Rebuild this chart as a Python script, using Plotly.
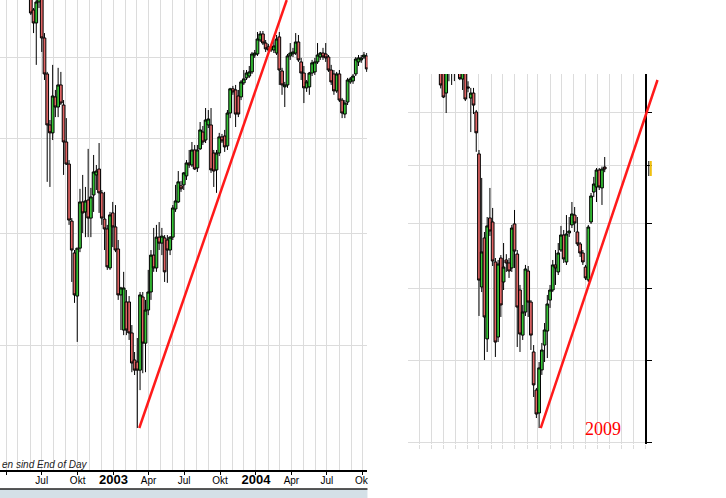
import math
import pandas as pd
import plotly.graph_objects as go

# ---------------- data (weekly candles) ----------------
left_start = "2002-06-03"
left_open = [4425, 4318, 4228, 4375, 4404, 4126, 3891, 3581, 3535, 3748, 3687, 3822, 3699, 3483, 3360, 3062,
             2907, 2710, 2930, 3159, 3108, 3169, 3077, 3195, 3301, 3333, 3206, 3072, 3023, 2837, 3103, 3033,
             2926, 2715, 2564, 2684, 2684, 2552, 2442, 2434, 2402, 2706, 2510, 2649, 2728, 2897, 2837, 2983,
             2954, 2979, 2969, 2921, 2983, 3123, 3159, 3243, 3248, 3296, 3366, 3355, 3438, 3339, 3444, 3540,
             3494, 3581, 3581, 3421, 3328, 3421, 3512, 3517, 3461, 3651, 3798, 3791, 3754, 3748, 3835, 3866,
             3878, 3904, 4013, 4020, 4112, 4153, 4092, 4066, 4046, 4046, 4026, 4133, 3910, 3810, 3822, 4007,
             4020, 4026, 4099, 3968, 3897, 3804, 3810, 3897, 3904, 3968, 4000, 4026, 4020, 4000, 3916, 3891,
             3785, 3891, 3729, 3645, 3717, 3841, 3847, 3891, 3968, 3981, 4000, 4007]
left_high = [4461, 4332, 4425, 4447, 4447, 4159, 3904, 3610, 3949, 3791, 3930, 3904, 3729, 3621, 3382, 3077,
             2921, 2930, 3227, 3301, 3237, 3444, 3232, 3410, 3355, 3477, 3221, 3211, 3043, 3108, 3159, 3143,
             2969, 2751, 2819, 2737, 2710, 2585, 2474, 2531, 2728, 2728, 2693, 2828, 2921, 3028, 3043, 3057,
             3028, 2993, 2993, 2988, 3143, 3248, 3322, 3269, 3317, 3382, 3438, 3483, 3466, 3466, 3598, 3575,
             3681, 3669, 3681, 3438, 3438, 3535, 3529, 3552, 3669, 3804, 3816, 3822, 3791, 3853, 3916, 3916,
             3942, 4033, 4046, 4166, 4173, 4173, 4112, 4086, 4079, 4112, 4146, 4166, 3930, 3841, 4020, 4092,
             4060, 4159, 4146, 3994, 3942, 3853, 3904, 3981, 3994, 4092, 4033, 4060, 4092, 4013, 3949, 3916,
             3904, 3916, 3742, 3729, 3866, 3872, 3891, 4000, 4013, 4013, 4033, 4026]
left_low = [4283, 4159, 3949, 4332, 4033, 3853, 3264, 3237, 3494, 3627, 3627, 3699, 3301, 3355, 3043, 2773,
            2680, 2515, 2911, 3003, 2983, 2983, 2983, 3108, 3221, 3103, 3043, 2921, 2828, 2828, 2935, 2911,
            2693, 2564, 2543, 2543, 2523, 2394, 2383, 2186, 2325, 2390, 2394, 2627, 2693, 2819, 2819, 2921,
            2897, 2773, 2769, 2897, 2969, 3108, 3154, 3211, 3221, 3274, 3339, 3344, 3328, 3317, 3438, 3466,
            3477, 3563, 3312, 3237, 3206, 3404, 3477, 3427, 3438, 3621, 3761, 3569, 3627, 3729, 3822, 3853,
            3866, 3891, 3994, 4007, 4099, 4079, 4033, 4033, 4033, 4026, 4013, 3822, 3761, 3687, 3804, 3981,
            4000, 4013, 3968, 3853, 3711, 3779, 3761, 3878, 3885, 3955, 3981, 3981, 3968, 3904, 3822, 3761,
            3773, 3717, 3621, 3621, 3699, 3829, 3829, 3878, 3942, 3962, 3987, 3904]
left_close = [4297, 4228, 4375, 4404, 4126, 3891, 3581, 3535, 3754, 3687, 3822, 3711, 3483, 3360, 3067, 2921,
              2715, 2930, 3159, 3103, 3164, 3077, 3185, 3317, 3322, 3206, 3077, 3023, 2842, 3093, 3033, 2921,
              2715, 2746, 2746, 2564, 2552, 2430, 2402, 2402, 2715, 2510, 2649, 2728, 2897, 2837, 2983, 2954,
              2988, 2819, 2921, 2983, 3128, 3164, 3264, 3227, 3312, 3366, 3355, 3438, 3333, 3438, 3552, 3483,
              3610, 3616, 3328, 3322, 3421, 3512, 3489, 3455, 3651, 3798, 3779, 3645, 3645, 3841, 3860, 3897,
              3904, 4020, 4026, 4119, 4153, 4092, 4053, 4046, 4066, 4073, 4119, 3916, 3822, 3822, 4007, 4026,
              4033, 4099, 3981, 3897, 3804, 3841, 3897, 3962, 3968, 4013, 4026, 4000, 3994, 3916, 3841, 3785,
              3891, 3729, 3651, 3711, 3853, 3860, 3878, 3987, 3994, 3994, 4013, 3923]

right_start = "2008-06-25"
right_open = [6450, 6450, 6188, 6450, 6500, 6420, 6470, 6560, 6331, 6420, 6250, 6138, 6188, 6000, 5604, 4512,
              4887, 4146, 5049, 5016, 4700, 4159, 4730, 4549, 4715, 4692, 4654, 5000, 4761, 4490, 4172, 4332,
              4631, 4403, 4059, 3815, 3675, 3942, 4105, 4200, 4417, 4490, 4677, 4624, 4792, 4911, 4700, 4927,
              4992, 5073, 4935, 4840, 4769, 4661, 4564, 5016, 5267, 5310, 5459, 5302, 5486]
right_high = [6500, 6520, 6480, 6600, 6560, 6550, 6620, 6600, 6450, 6480, 6308, 6240, 6240, 6020, 5640, 5389,
              4935, 5057, 5302, 5132, 4730, 4715, 4753, 4847, 4760, 4730, 4992, 5115, 4792, 4527, 4382, 4677,
              4669, 4417, 4105, 3828, 3993, 4119, 4255, 4454, 4527, 4715, 4792, 4847, 4984, 4951, 5073, 5057,
              5182, 5140, 5057, 4855, 4792, 4677, 4992, 5259, 5398, 5477, 5477, 5490, 5576]
right_low = [6235, 6138, 5990, 6308, 6270, 6310, 6420, 6320, 6219, 6108, 6196, 5807, 5980, 5623, 4304, 4475,
             4006, 4059, 4903, 4669, 4026, 4125, 4297, 4490, 4624, 4579, 4624, 4654, 4092, 4059, 4139, 4304,
             4297, 4072, 3772, 3645, 3586, 3910, 3993, 4019, 4361, 4475, 4527, 4601, 4777, 4692, 4677, 4895,
             4967, 4935, 4823, 4738, 4677, 4564, 4549, 5000, 5224, 5182, 5284, 5157, 5440]
right_close = [6270, 6148, 6420, 6500, 6420, 6470, 6560, 6334, 6420, 6128, 6240, 6188, 6068, 5800, 4563, 4777,
               4297, 4984, 4943, 4707, 4125, 4684, 4382, 4661, 4692, 4631, 4967, 4784, 4367, 4179, 4332, 4646,
               4403, 4172, 3847, 3669, 3955, 4072, 4207, 4389, 4490, 4677, 4654, 4769, 4911, 4723, 4919, 4943,
               5082, 5008, 4840, 4769, 4700, 4579, 4975, 5233, 5336, 5459, 5310, 5468, 5468]

left_trend_dates = ["2003-03-08", "2004-03-20"]
left_trend_values = [2186, 4389]
right_trend_dates = ["2009-03-08", "2010-01-01"]
right_trend_values = [3586, 6321]

left_tick_dates = ["2002-04-01", "2002-07-01", "2002-10-01", "2003-01-01", "2003-04-01", "2003-07-01",
                   "2003-10-01", "2004-01-01", "2004-04-01", "2004-07-01", "2004-10-01"]
left_tick_labels = ["Apr", "Jul", "Okt", "2003", "Apr", "Jul", "Okt", "2004", "Apr", "Jul", "Okt"]
left_year_dates = ["2003-01-01", "2004-01-01"]
right_year_dates = ["2009-01-01"]
left_grid_values = [2500, 3000, 3500, 4000]
right_grid_values = [3500, 4000, 4500, 5000, 5500, 6000]
footnote_text = "en sind End of Day"
year_label = "2009"

# ---------------- layout geometry ----------------
W, H = 726, 498
PPL = 614.0  # pixels per natural-log unit of price


def log_range(anchor_price, anchor_px, top_px, bottom_px):
    top = anchor_price * math.exp((anchor_px - top_px) / PPL)
    bot = anchor_price * math.exp((anchor_px - bottom_px) / PPL)
    return [math.log10(bot), math.log10(top)]


GREEN = "#36c436"
RED = "#e06464"
GRID = "#dcdcdc"
YEARGRID = "#a0a0a0"
TREND = "#ff1a1a"
FONT = "Liberation Sans, Arial, sans-serif"

left_dates = pd.date_range(left_start, periods=len(left_open), freq="7D")
right_dates = pd.date_range(right_start, periods=len(right_open), freq="7D")

left_xrange = ["2002-03-16", "2004-10-13"]
right_xrange = ["2008-04-03", "2009-12-01"]
r0, r1 = pd.Timestamp(right_xrange[0]), pd.Timestamp(right_xrange[1])
days_per_px = (r1 - r0).days / (648 - 410)
x3_end = (r0 + pd.Timedelta(days=round((672 - 410) * days_per_px))).strftime("%Y-%m-%d")

left_months = [d.strftime("%Y-%m-%d") for d in pd.date_range("2002-03-01", "2004-11-01", freq="MS")]
right_months = [d.strftime("%Y-%m-%d") for d in pd.date_range("2008-05-01", "2009-12-01", freq="MS")]

fig = go.Figure()

candle_style = dict(
    increasing=dict(fillcolor=GREEN, line=dict(color="black", width=1)),
    decreasing=dict(fillcolor=RED, line=dict(color="black", width=1)),
    whiskerwidth=0, showlegend=False, hoverinfo="skip",
)

fig.add_trace(go.Candlestick(x=left_dates, open=left_open, high=left_high, low=left_low,
                             close=left_close, xaxis="x", yaxis="y", **candle_style))
fig.add_trace(go.Scatter(x=left_trend_dates, y=left_trend_values, mode="lines",
                         line=dict(color=TREND, width=2.5), xaxis="x", yaxis="y",
                         showlegend=False, hoverinfo="skip"))
fig.add_trace(go.Candlestick(x=right_dates, open=right_open, high=right_high, low=right_low,
                             close=right_close, xaxis="x2", yaxis="y2", **candle_style))
fig.add_trace(go.Scatter(x=right_trend_dates, y=right_trend_values, mode="lines",
                         line=dict(color=TREND, width=2.5), xaxis="x3", yaxis="y3",
                         showlegend=False, hoverinfo="skip"))

tick_text = [f"<b><span style='font-size:13px'>{t}</span></b>" if t.isdigit() else t
             for t in left_tick_labels]

right_yrange = log_range(6000, 112, 74, 444)

fig.update_layout(
    width=W, height=H, autosize=False,
    margin=dict(l=0, r=0, t=0, b=0, pad=0),
    paper_bgcolor="white", plot_bgcolor="rgba(0,0,0,0)",
    boxgap=0, boxgroupgap=0,
    font=dict(family=FONT, size=10, color="black"),
    xaxis=dict(
        type="date", domain=[0, 369 / W], range=left_xrange, anchor="y",
        showline=True, linecolor="black", linewidth=1.5,
        ticks="outside", ticklen=3, tickcolor="black", tickwidth=1,
        tickmode="array", tickvals=left_tick_dates, ticktext=tick_text,
        tickfont=dict(family=FONT, size=10, color="black"), ticklabelstandoff=-3,
        showgrid=True, gridcolor=GRID, gridwidth=1,
        minor=dict(tickmode="array", tickvals=left_months, showgrid=True,
                   gridcolor=GRID, gridwidth=1, ticks=""),
        rangeslider=dict(visible=False), zeroline=False,
    ),
    xaxis4=dict(
        type="date", overlaying="x", range=left_xrange, anchor="y",
        tickmode="array", tickvals=left_year_dates, showticklabels=False, ticks="",
        showline=False, showgrid=True, gridcolor=YEARGRID, gridwidth=1, zeroline=False,
    ),
    yaxis=dict(
        type="log", domain=[1 - 470 / H, 1], range=log_range(4000, 57, 0, 470), anchor="x",
        showline=False, ticks="", showticklabels=False,
        tickmode="array", tickvals=left_grid_values,
        showgrid=True, gridcolor=GRID, gridwidth=1, zeroline=False,
    ),
    xaxis2=dict(
        type="date", domain=[410 / W, 648 / W], range=right_xrange, anchor="y2",
        showline=False, ticks="outside", ticklen=4, tickcolor=GRID, tickwidth=1,
        tickmode="array", tickvals=right_months, showticklabels=False,
        showgrid=True, gridcolor=GRID, gridwidth=1,
        rangeslider=dict(visible=False), zeroline=False,
    ),
    xaxis5=dict(
        type="date", overlaying="x2", range=right_xrange, anchor="y2",
        tickmode="array", tickvals=right_year_dates, showticklabels=False, ticks="",
        showline=False, showgrid=True, gridcolor=YEARGRID, gridwidth=1, zeroline=False,
    ),
    yaxis2=dict(
        type="log", domain=[1 - 444 / H, 1 - 74 / H], range=right_yrange, anchor="x2",
        side="right", showline=True, linecolor="black", linewidth=1.5,
        ticks="outside", ticklen=5, tickcolor="black", tickwidth=1,
        tickmode="array", tickvals=right_grid_values, showticklabels=False,
        showgrid=True, gridcolor=GRID, gridwidth=1, zeroline=False,
    ),
    xaxis3=dict(
        type="date", domain=[410 / W, 672 / W], range=[right_xrange[0], x3_end],
        anchor="y3", visible=False, showgrid=False,
    ),
    yaxis3=dict(
        type="log", domain=[1 - 444 / H, 1 - 74 / H], range=right_yrange,
        anchor="x3", visible=False, showgrid=False,
    ),
)

shapes = [
    # the left chart window ends at x=369: hide label overflow beyond it
    dict(type="rect", xref="paper", yref="paper", x0=369.5 / W, x1=385 / W, y0=1 - 489 / H, y1=1 - 471.5 / H,
         fillcolor="white", line=dict(width=0)),
    # window status bar under the left chart
    dict(type="rect", xref="paper", yref="paper", x0=0, x1=369 / W, y0=0, y1=1 - 489 / H,
         fillcolor="#d4e0e7", line=dict(width=0)),
    dict(type="line", xref="paper", yref="paper", x0=0, x1=369 / W,
         y0=1 - 489 / H, y1=1 - 489 / H, line=dict(color="#222222", width=1.5)),
    # last-price marker on the right axis
    dict(type="line", xref="paper", yref="paper", x0=651.5 / W, x1=651.5 / W,
         y0=1 - 176 / H, y1=1 - 161 / H, line=dict(color="black", width=1)),
    dict(type="line", xref="paper", yref="paper", x0=653.5 / W, x1=653.5 / W,
         y0=1 - 176 / H, y1=1 - 161 / H, line=dict(color="#f0c010", width=2)),
]
fig.update_layout(shapes=shapes)

fig.add_annotation(x=0, y=1 - 464 / H, xref="paper", yref="paper", xanchor="left", yanchor="middle",
                   text=f"<i>{footnote_text}</i>", showarrow=False,
                   font=dict(family=FONT, size=10, color="#222222"))
fig.add_annotation(x=605 / W, y=1 - 429 / H, xref="paper", yref="paper", xanchor="center",
                   yanchor="middle", text=year_label, showarrow=False,
                   font=dict(family="Liberation Serif, Times New Roman, serif", size=18, color="#ff0000"))

fig.write_html("out.html", config={"displayModeBar": False},
               post_script="document.body.style.margin='0';document.body.style.overflow='hidden';")
